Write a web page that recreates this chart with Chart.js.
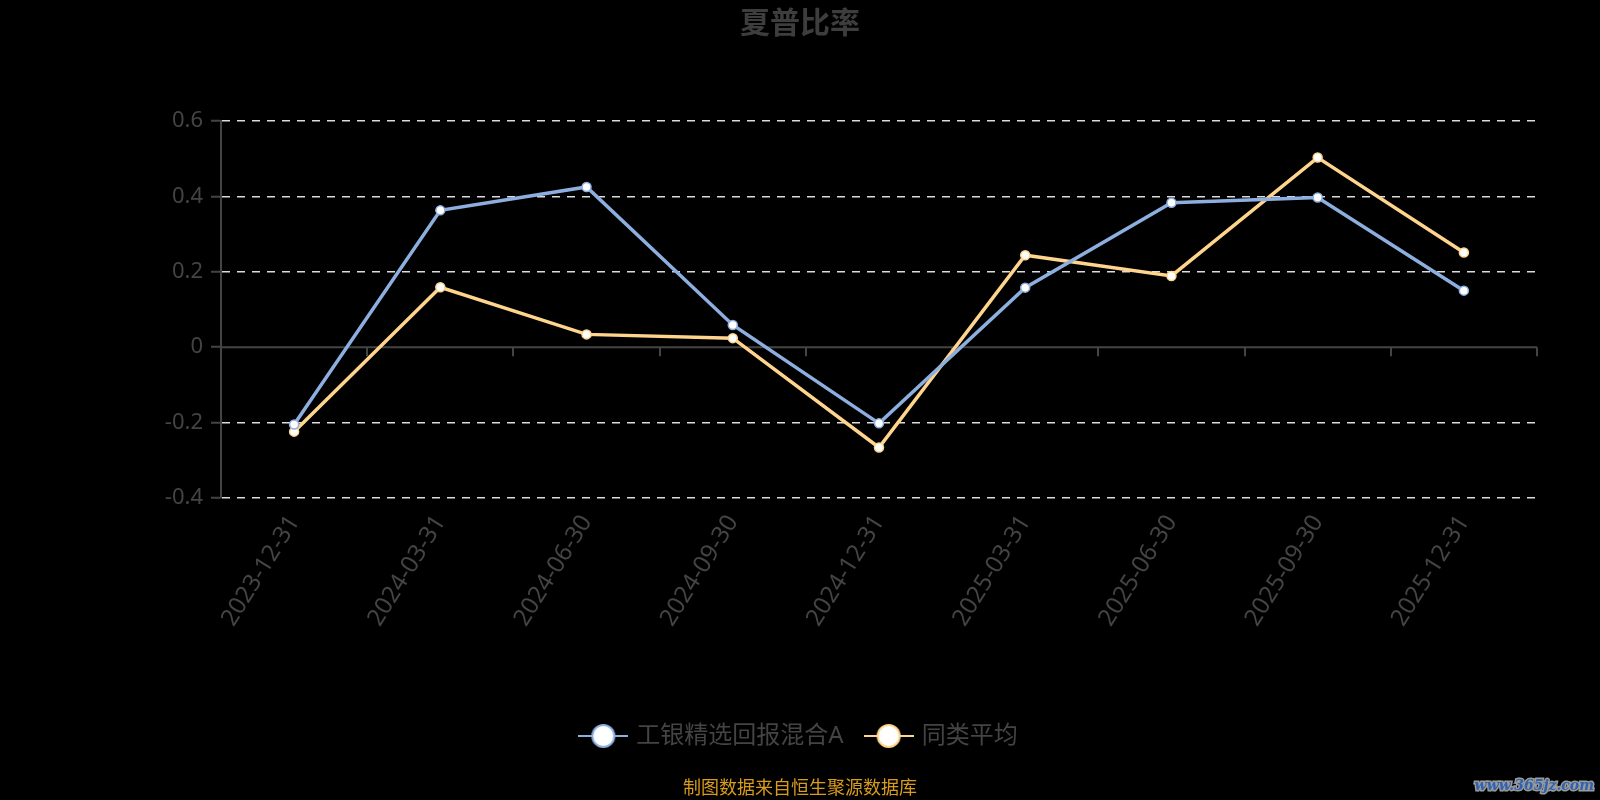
<!DOCTYPE html>
<html>
<head>
<meta charset="utf-8">
<style>
  html, body { margin: 0; padding: 0; background: #000; }
  #wrap { width: 1600px; height: 800px; position: relative; }
</style>
<script src="https://cdn.jsdelivr.net/npm/chart.js@4.4.1/dist/chart.umd.min.js"></script>
</head>
<body>
<div id="wrap"><canvas id="c" width="1600" height="800"></canvas></div>
<script>
const titleText = '夏普比率';
const footerText = '制图数据来自恒生聚源数据库';
const watermarkText = 'www.365jz.com';
const categories = ['2023-12-31', '2024-03-31', '2024-06-30', '2024-09-30', '2024-12-31', '2025-03-31', '2025-06-30', '2025-09-30', '2025-12-31'];
const fundName = '工银精选回报混合A';
const fundValues = [-0.205, 0.363, 0.425, 0.059, -0.202, 0.158, 0.383, 0.397, 0.150];
const avgName = '同类平均';
const avgValues = [-0.224, 0.159, 0.034, 0.024, -0.266, 0.244, 0.189, 0.503, 0.251];
const yTicks = [-0.4, -0.2, 0, 0.2, 0.4, 0.6];

const BLUE = '#8cafdf';
const YELLOW = '#ffd48c';
const TEXT = '#444444';
const FONT = "'Noto Sans', 'Noto Sans CJK SC', sans-serif";

function makeIcon(color) {
  const c = document.createElement('canvas');
  c.width = 50; c.height = 26;
  const g = c.getContext('2d');
  g.strokeStyle = color; g.lineWidth = 2;
  g.beginPath(); g.moveTo(0, 13); g.lineTo(50, 13); g.stroke();
  g.beginPath(); g.arc(25, 13, 11, 0, Math.PI * 2);
  g.fillStyle = '#fff'; g.fill();
  g.lineWidth = 2; g.stroke();
  return c;
}
const icons = [makeIcon(BLUE), makeIcon(YELLOW)];

const decor = {
  id: 'decor',
  beforeDatasetsDraw(chart) {
    const { ctx, chartArea } = chart;
    const y = chart.scales.y.getPixelForValue(0);
    const xs = chart.scales.x;
    const n = categories.length;
    const w = (chartArea.right - chartArea.left) / n;
    ctx.save();
    ctx.strokeStyle = '#444';
    ctx.lineWidth = 2;
    ctx.beginPath();
    ctx.moveTo(chartArea.left, y);
    ctx.lineTo(chartArea.right, y);
    ctx.stroke();
    for (let i = 1; i <= n; i++) {
      const x = Math.round(xs.getPixelForValue(i - 1) + w / 2);
      ctx.beginPath();
      ctx.moveTo(x, y);
      ctx.lineTo(x, y + 9);
      ctx.stroke();
    }
    ctx.restore();
  },
  afterDraw(chart) {
    const ctx = chart.ctx;
    ctx.save();
    ctx.textAlign = 'center';
    ctx.textBaseline = 'middle';
    ctx.fillStyle = '#3d3d3d';
    ctx.font = "bold 30px " + FONT;
    ctx.fillText(titleText, 800, 24);
    ctx.fillStyle = '#d99b1c';
    ctx.font = "18px " + FONT;
    ctx.fillText(footerText, 800, 789);
    ctx.font = "italic bold 14px 'DejaVu Serif', serif";
    ctx.textAlign = 'right';
    ctx.lineWidth = 3;
    ctx.strokeStyle = '#9a9a9a';
    ctx.strokeText(watermarkText, 1594, 786);
    ctx.fillStyle = '#2f63b0';
    ctx.fillText(watermarkText, 1594, 786);
    ctx.restore();
  }
};

new Chart(document.getElementById('c'), {
  type: 'line',
  data: {
    labels: categories,
    datasets: [
      {
        label: fundName, data: fundValues,
        borderColor: BLUE, backgroundColor: '#fff', borderWidth: 3.5,
        pointRadius: 4.5, pointBorderWidth: 1.5, pointBorderColor: BLUE, pointBackgroundColor: '#fff',
        tension: 0
      },
      {
        label: avgName, data: avgValues,
        borderColor: YELLOW, backgroundColor: '#fff', borderWidth: 3.5,
        pointRadius: 4.5, pointBorderWidth: 1.5, pointBorderColor: YELLOW, pointBackgroundColor: '#fff',
        tension: 0
      }
    ]
  },
  options: {
    responsive: false,
    animation: false,
    devicePixelRatio: 1,
    layout: { padding: { left: 0, right: 0, top: 121, bottom: 42 } },
    plugins: {
      title: { display: false },
      tooltip: { enabled: false },
      legend: {
        display: true,
        position: 'bottom',
        labels: {
          usePointStyle: true,
          pointStyleWidth: 42,
          boxHeight: 26,
          padding: 24,
          color: TEXT,
          font: { family: FONT, size: 24 },
          generateLabels: (chart) => chart.data.datasets.map((ds, i) => ({
            text: ds.label, pointStyle: icons[i], fontColor: TEXT,
            datasetIndex: i, hidden: false, lineWidth: 0,
            strokeStyle: 'transparent', fillStyle: 'transparent'
          }))
        }
      }
    },
    scales: {
      x: {
        type: 'category',
        offset: true,
        grid: { display: false, drawTicks: false, offset: true },
        border: { display: false },
        ticks: {
          color: TEXT, font: { family: FONT, size: 24 },
          minRotation: 58, maxRotation: 58, padding: 12, autoSkip: false
        },
        afterFit: (s) => { s.height = 202; }
      },
      y: {
        min: -0.4, max: 0.6,
        afterBuildTicks: (s) => { s.ticks = yTicks.map(v => ({ value: v })); },
        grid: {
          color: (c) => (c.tick && c.tick.value === 0) ? 'rgba(0,0,0,0)' : '#dcdcdc',
          lineWidth: 1.5,
          drawTicks: true, tickLength: 10, tickColor: '#444', tickWidth: 2
        },
        border: { display: true, color: '#444', width: 2, dash: [8, 7] },
        ticks: {
          color: TEXT, font: { family: FONT, size: 22 }, padding: 8,
          callback: (v) => String(Number(Number(v).toFixed(1)))
        },
        afterFit: (s) => { s.width = 221; }
      },
      yRight: {
        position: 'right',
        display: true,
        min: -0.4, max: 0.6,
        grid: { display: false, drawTicks: false },
        border: { display: false },
        ticks: { display: false },
        afterFit: (s) => { s.width = 63; }
      }
    }
  },
  plugins: [decor]
});
</script>
</body>
</html>
